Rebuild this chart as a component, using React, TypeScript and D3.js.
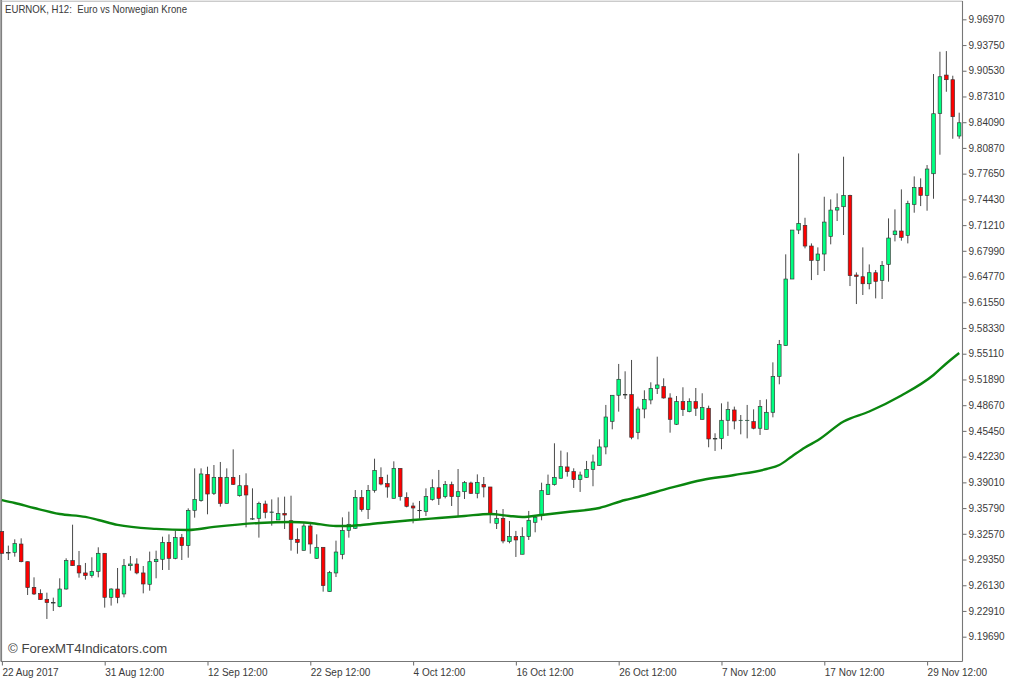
import React, { useEffect, useRef } from 'react'
import * as d3 from 'd3'

const opens = [
  9.3284, 9.3021, 9.3025, 9.3129, 9.2908, 9.2587, 9.2508, 9.2437, 9.2395, 9.2345,
  9.2566, 9.2921, 9.2858, 9.2767, 9.2733, 9.2787, 9.3013, 9.2462, 9.2566, 9.2504,
  9.2858, 9.2879, 9.2767, 9.2625, 9.2908, 9.2938, 9.315, 9.295, 9.3209, 9.3109,
  9.3551, 9.3672, 9.4001, 9.3764, 9.3964, 9.3638, 9.3964, 9.3734, 9.3859, 9.3446,
  9.3451, 9.363, 9.353, 9.343, 9.3513, 9.3421, 9.3188, 9.305, 9.3355, 9.295,
  9.3088, 9.2533, 9.2767, 9.3, 9.33, 9.3326, 9.3713, 9.3559, 9.3801, 9.3964,
  9.3885, 9.3701, 9.4076, 9.3713, 9.3605, 9.3551, 9.3538, 9.3688, 9.3834, 9.3722,
  9.3872, 9.3722, 9.3784, 9.3893, 9.3764, 9.3876, 9.3843, 9.3388, 9.3451, 9.3159,
  9.3222, 9.3001, 9.3222, 9.3401, 9.3485, 9.3751, 9.3872, 9.3952, 9.4094, 9.4035,
  9.3935, 9.3964, 9.4064, 9.4114, 9.4344, 9.4665, 9.4991, 9.4999, 9.4999, 9.4527,
  9.4819, 9.4932, 9.5078, 9.5099, 9.4957, 9.4628, 9.4911, 9.4786, 9.4911, 9.469,
  9.4828, 9.4448, 9.4448, 9.4678, 9.4807, 9.4678, 9.4678, 9.4661, 9.4578, 9.4565,
  9.4778, 9.5228, 9.5612, 9.6446, 9.7059, 9.7118, 9.6859, 9.668, 9.6759, 9.698,
  9.7309, 9.7351, 9.7493, 9.6496, 9.6475, 9.6387, 9.6525, 9.6429, 9.6629, 9.7001,
  9.7047, 9.6992, 9.738, 9.7593, 9.7493, 9.7764, 9.8519, 9.8999, 9.8941, 9.8236,
]
const highs = [
  9.3284, 9.3109, 9.3188, 9.32, 9.2908, 9.2712, 9.2562, 9.252, 9.2458, 9.27,
  9.295, 9.3371, 9.3042, 9.2892, 9.2963, 9.3088, 9.3013, 9.2575, 9.2829, 9.2942,
  9.2979, 9.295, 9.2854, 9.3034, 9.3046, 9.3221, 9.325, 9.3296, 9.3255, 9.3576,
  9.4076, 9.4076, 9.4097, 9.4118, 9.4156, 9.4076, 9.4314, 9.3993, 9.4014, 9.3826,
  9.3659, 9.3672, 9.3688, 9.3713, 9.3722, 9.3734, 9.3326, 9.3388, 9.3388, 9.325,
  9.3088, 9.2792, 9.3171, 9.3463, 9.3534, 9.3805, 9.3805, 9.3868, 9.4197, 9.4089,
  9.3997, 9.4164, 9.4076, 9.3776, 9.3647, 9.3668, 9.3826, 9.3939, 9.4056, 9.3918,
  9.391, 9.4068, 9.3918, 9.391, 9.4001, 9.3968, 9.3843, 9.3555, 9.3567, 9.3418,
  9.3293, 9.3339, 9.3543, 9.3493, 9.3897, 9.3998, 9.439, 9.4298, 9.4277, 9.4077,
  9.4035, 9.4169, 9.4248, 9.444, 9.487, 9.4991, 9.5383, 9.5291, 9.5433, 9.4849,
  9.5053, 9.5153, 9.5474, 9.5203, 9.5016, 9.4982, 9.5091, 9.4953, 9.5082, 9.5016,
  9.4861, 9.4515, 9.489, 9.4911, 9.4849, 9.4744, 9.487, 9.4815, 9.4932, 9.494,
  9.5403, 9.5683, 9.6755, 9.7059, 9.8018, 9.7213, 9.6892, 9.6842, 9.7476, 9.7443,
  9.7518, 9.7977, 9.7501, 9.6529, 9.6842, 9.6629, 9.6559, 9.6671, 9.7205, 9.7318,
  9.7568, 9.7426, 9.7731, 9.7706, 9.7873, 9.9012, 9.9291, 9.9299, 9.8991, 9.8528,
]
const lows = [
  9.3013, 9.2929, 9.2971, 9.29, 9.2491, 9.2491, 9.2429, 9.2191, 9.2291, 9.2337,
  9.2558, 9.2854, 9.2708, 9.2683, 9.2708, 9.2712, 9.2333, 9.2358, 9.2387, 9.2462,
  9.2796, 9.275, 9.2512, 9.2545, 9.27, 9.2804, 9.2804, 9.2938, 9.2929, 9.2958,
  9.3459, 9.3659, 9.3501, 9.3743, 9.3597, 9.3638, 9.3868, 9.3722, 9.3338, 9.343,
  9.3209, 9.3451, 9.3359, 9.343, 9.3317, 9.3046, 9.3008, 9.305, 9.3008, 9.2942,
  9.2533, 9.2533, 9.2716, 9.2938, 9.3209, 9.3317, 9.3534, 9.3442, 9.3772, 9.3864,
  9.3709, 9.3701, 9.3672, 9.3588, 9.3388, 9.3446, 9.348, 9.3672, 9.3618, 9.3701,
  9.3605, 9.3472, 9.3693, 9.3755, 9.3701, 9.3713, 9.3388, 9.3317, 9.3138, 9.3138,
  9.2967, 9.3001, 9.318, 9.3276, 9.3426, 9.3743, 9.386, 9.3952, 9.3973, 9.3831,
  9.3781, 9.396, 9.3852, 9.411, 9.4252, 9.4565, 9.4786, 9.4945, 9.444, 9.444,
  9.4703, 9.4878, 9.5007, 9.4949, 9.4523, 9.4619, 9.4732, 9.4778, 9.4732, 9.469,
  9.434, 9.4294, 9.4315, 9.4482, 9.4565, 9.4502, 9.4452, 9.4565, 9.4494, 9.4565,
  9.4715, 9.5128, 9.5612, 9.6446, 9.7009, 9.683, 9.6433, 9.6496, 9.6546, 9.688,
  9.7172, 9.6997, 9.6358, 9.6133, 9.6246, 9.6317, 9.6204, 9.6196, 9.6413, 9.6917,
  9.6926, 9.6892, 9.7276, 9.7359, 9.7301, 9.7451, 9.8002, 9.879, 9.8202, 9.8202,
]
const closes = [
  9.3013, 9.3021, 9.3134, 9.2908, 9.2583, 9.2504, 9.2433, 9.2395, 9.2395, 9.2566,
  9.2921, 9.2858, 9.2767, 9.2733, 9.2787, 9.3013, 9.2462, 9.2566, 9.2458, 9.2858,
  9.2879, 9.2767, 9.2629, 9.2908, 9.2938, 9.315, 9.295, 9.3209, 9.3109, 9.3551,
  9.3688, 9.4006, 9.3755, 9.3964, 9.3638, 9.3964, 9.3876, 9.3859, 9.3743, 9.3446,
  9.3638, 9.3526, 9.353, 9.3509, 9.3492, 9.3188, 9.315, 9.3355, 9.3129, 9.3088,
  9.2608, 9.2771, 9.3029, 9.33, 9.3376, 9.3713, 9.3559, 9.3801, 9.4051, 9.388,
  9.3843, 9.4076, 9.3722, 9.3601, 9.358, 9.3551, 9.3722, 9.3834, 9.3701, 9.3872,
  9.3722, 9.3784, 9.3897, 9.3764, 9.3901, 9.3843, 9.3513, 9.3451, 9.3167, 9.3222,
  9.318, 9.3222, 9.3426, 9.3464, 9.3797, 9.3877, 9.3964, 9.4098, 9.4035, 9.3935,
  9.3993, 9.4064, 9.4156, 9.4344, 9.4719, 9.4991, 9.5191, 9.4999, 9.4465, 9.4819,
  9.494, 9.5078, 9.512, 9.4957, 9.469, 9.4911, 9.4811, 9.4911, 9.4828, 9.4836,
  9.4444, 9.4448, 9.4678, 9.4811, 9.4669, 9.4678, 9.4678, 9.4578, 9.4849, 9.4778,
  9.5228, 9.5625, 9.6446, 9.7059, 9.7143, 9.6859, 9.668, 9.6759, 9.7159, 9.7309,
  9.7339, 9.7493, 9.6488, 9.6479, 9.6387, 9.6525, 9.6417, 9.6617, 9.6959, 9.7047,
  9.6967, 9.7393, 9.7593, 9.7493, 9.7823, 9.8515, 9.8978, 9.8941, 9.8478, 9.8402,
]

// moving average at these bars
const maBars = [
  0, 2, 5, 9, 13, 15, 18, 24, 29, 33, 40, 45, 48, 52, 54, 56, 59, 64, 68, 72, 76,
  79, 81, 84, 88, 93, 97, 99, 104, 109, 114, 119, 121, 123, 125, 127, 131, 135, 140, 145, 147, 149,
]
const maValues = [
  9.368, 9.3643, 9.358, 9.3505, 9.3468, 9.343, 9.3368, 9.3318, 9.3305, 9.3343, 9.3393,
  9.3405, 9.3393, 9.3355, 9.3355, 9.3368, 9.3393, 9.343, 9.3455, 9.348, 9.3505,
  9.348, 9.3468, 9.3493, 9.353, 9.358, 9.368, 9.3718, 9.3831, 9.3931, 9.3993, 9.4068,
  9.4118, 9.4229, 9.4338, 9.4428, 9.4663, 9.4788, 9.4988, 9.5245, 9.5389, 9.552,
]

const priceTicks = [
  9.9697, 9.9375, 9.9053, 9.8731, 9.8409, 9.8087, 9.7765, 9.7443, 9.7121, 9.6799,
  9.6477, 9.6155, 9.5833, 9.5511, 9.5189, 9.4867, 9.4545, 9.4223, 9.3901, 9.3579,
  9.3257, 9.2935, 9.2613, 9.2291, 9.1969,
]
const timeBars = [0, 16, 32, 48, 64, 80, 96, 112, 128, 144]
const timeLabels = [
  '22 Aug 2017', '31 Aug 12:00', '12 Sep 12:00', '22 Sep 12:00', '4 Oct 12:00',
  '16 Oct 12:00', '26 Oct 12:00', '7 Nov 12:00', '17 Nov 12:00', '29 Nov 12:00',
]

const width = 1024
const height = 681
const font = '"Liberation Sans", sans-serif'

const App: React.FC = () => {
  const svgRef = useRef<SVGSVGElement | null>(null)

  useEffect(() => {
    document.body.style.margin = '0'
    if (!svgRef.current) return
    const svg = d3.select(svgRef.current)
    svg.selectAll('*').remove()

    const x = d3.scaleLinear().domain([1, 149]).range([8.33, 959.2])
    const y = d3.scaleLinear().domain([9.1969, 9.9697]).range([636.7, 19.3])
    const bottom = 661.5
    const right = 962.5

    // frame
    svg.append('rect').attr('width', width).attr('height', height).attr('fill', '#fff')
    svg
      .append('path')
      .attr('d', `M1.2,${bottom}V0`)
      .attr('fill', 'none')
      .attr('stroke', '#808080')
      .attr('stroke-width', 1.8)
    svg
      .append('path')
      .attr('d', `M1.5,1.2H${right}`)
      .attr('fill', 'none')
      .attr('stroke', '#b4b4b4')
      .attr('stroke-width', 1)

    // axes
    const yAxis = svg
      .append('g')
      .attr('transform', `translate(${right},0)`)
      .call(
        d3
          .axisRight(y)
          .tickValues(priceTicks)
          .tickFormat(d3.format('.5f') as any)
          .tickSize(4)
          .tickPadding(2),
      )
    yAxis.select('.domain').attr('d', `M0,1V${bottom}`)

    const xAxis = svg
      .append('g')
      .attr('transform', `translate(0,${bottom})`)
      .call(
        d3
          .axisBottom(x)
          .tickValues(timeBars)
          .tickFormat((_, i) => timeLabels[i])
          .tickSize(4)
          .tickPadding(3),
      )
    xAxis.select('.domain').attr('d', `M1,0H${right}`)
    xAxis.selectAll('text').attr('text-anchor', 'start')

    svg
      .selectAll('.domain, .tick line')
      .attr('stroke', '#777')
      .attr('stroke-width', 1.1)
    svg
      .selectAll('.tick text')
      .attr('fill', '#3a3a3a')
      .attr('font-family', font)
      .attr('font-size', 10)

    const bars = d3.range(opens.length)
    const line = d3
      .line<number>()
      .x((d) => x(d))
      .y((_, i) => y(maValues[i]))
      .curve(d3.curveMonotoneX)

    svg
      .append('g')
      .selectAll('line')
      .data(bars)
      .enter()
      .append('line')
      .attr('x1', (d) => x(d))
      .attr('x2', (d) => x(d))
      .attr('y1', (d) => y(highs[d]))
      .attr('y2', (d) => y(lows[d]))
      .attr('stroke', '#4a4a4a')
      .attr('stroke-width', 1)

    svg
      .append('g')
      .selectAll('rect')
      .data(bars)
      .enter()
      .append('rect')
      .attr('x', (d) => x(d) - 1.8)
      .attr('y', (d) => y(Math.max(opens[d], closes[d])))
      .attr('width', 3.6)
      .attr('height', (d) =>
        Math.max(0.4, y(Math.min(opens[d], closes[d])) - y(Math.max(opens[d], closes[d]))),
      )
      .attr('fill', (d) => (closes[d] >= opens[d] ? '#00ff80' : '#ff0000'))
      .attr('stroke', '#333')
      .attr('stroke-width', 0.65)

    // moving average sits on top of the candles
    svg
      .append('path')
      .datum(maBars)
      .attr('d', line)
      .attr('fill', 'none')
      .attr('stroke', '#0a860f')
      .attr('stroke-width', 2.4)
      .attr('stroke-linejoin', 'round')

    // labels
    svg
      .append('text')
      .attr('x', 5)
      .attr('y', 12.5)
      .attr('font-family', font)
      .attr('font-size', 10.2)
      .attr('textLength', 182)
      .attr('lengthAdjust', 'spacingAndGlyphs')
      .attr('fill', '#3a3a3a')
      .style('white-space', 'pre')
      .text('EURNOK, H12:  Euro vs Norwegian Krone')

    svg
      .append('text')
      .attr('x', 8)
      .attr('y', 653)
      .attr('font-family', font)
      .attr('font-size', 13.2)
      .attr('fill', '#444')
      .text('© ForexMT4Indicators.com')
  }, [])

  return <svg ref={svgRef} width={width} height={height} style={{ display: 'block' }}></svg>
}

export default App
